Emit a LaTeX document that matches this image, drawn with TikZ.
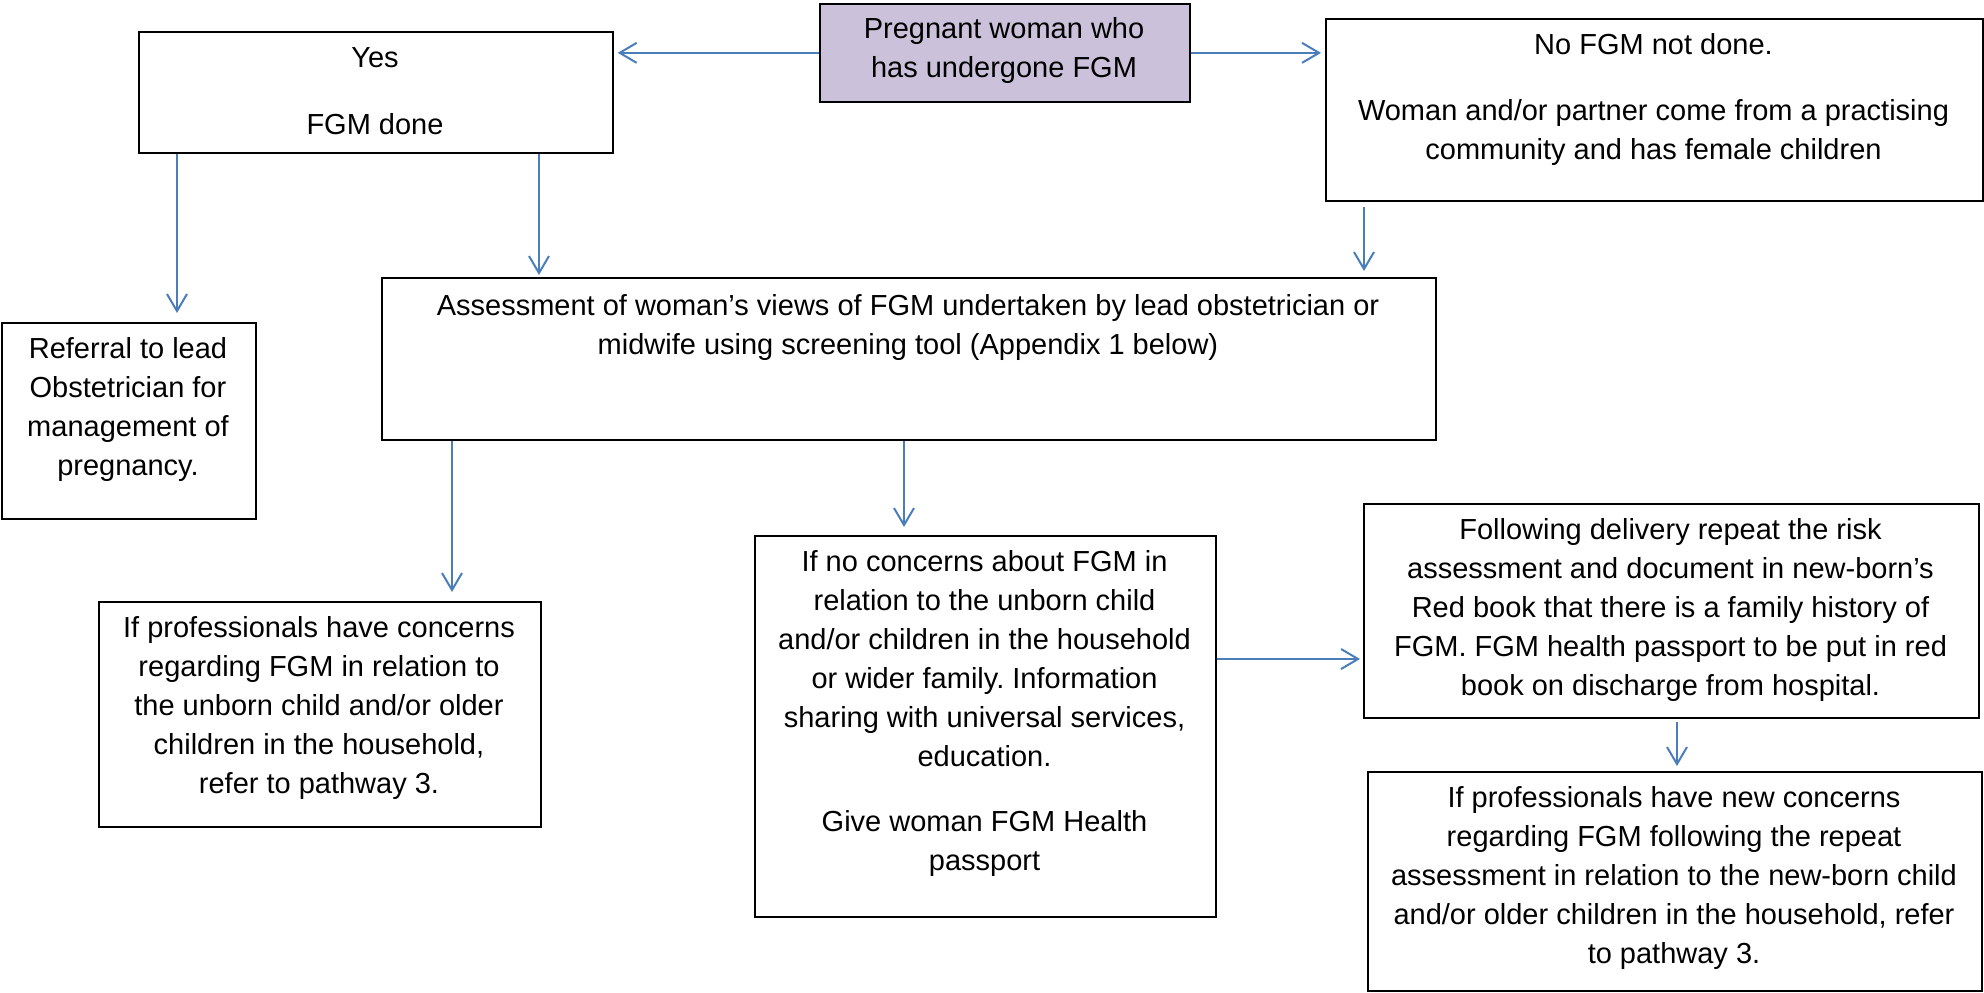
\documentclass[tikz,border=0pt]{standalone}
\usepackage{fontspec}
\setmainfont{Liberation Sans}
\usetikzlibrary{arrows.meta,calc}
\definecolor{startfill}{HTML}{CCC1DA}
\definecolor{flowblue}{HTML}{4A7EBB}
\frenchspacing
\begin{document}
\begin{tikzpicture}[x=1pt,y=-1pt,
  box/.style={draw=black,line width=1.7pt,rectangle,inner sep=0pt,anchor=north west},
  txt/.style={align=center,inner sep=0pt,font=\fontsize{29}{39}\selectfont},
  arr/.style={draw=flowblue,line width=2pt,-{Straight Barb[length=17pt,width=20pt,line width=2pt]}},
]
\useasboundingbox (0,0) rectangle (1984,993);

% boxes
\node[box,fill=startfill,minimum width=370pt,minimum height=98pt] (preg) at (819,3) {};
\node[box,minimum width=474pt,minimum height=121pt] (yes) at (138,31) {};
\node[box,minimum width=657pt,minimum height=182pt] (no) at (1325,18) {};
\node[box,minimum width=254pt,minimum height=196pt] (referral) at (1,322) {};
\node[box,minimum width=1054pt,minimum height=162pt] (assess) at (381,277) {};
\node[box,minimum width=442pt,minimum height=225pt] (concerns) at (98,601) {};
\node[box,minimum width=461pt,minimum height=381pt] (noconc) at (754,535) {};
\node[box,minimum width=615pt,minimum height=214pt] (follow) at (1363,503) {};
\node[box,minimum width=614pt,minimum height=219pt] (newc) at (1367,771) {};

% texts
\node[txt] (pregT) at (1004,51) {Pregnant woman who\\has undergone FGM};
\node[txt] (yesT) at (375,91.5) {Yes\\[28pt]FGM done};
\node[txt] (noT) at (1653.5,99.5) {No FGM not done.\\[27pt]Woman and/or partner come from a practising\\community and has female children};
\node[txt] (referralT) at (128,409) {Referral to lead\\Obstetrician for\\management of\\pregnancy.};
\node[txt] (assessT) at (908,327) {Assessment of woman’s views of FGM undertaken by lead obstetrician or\\midwife using screening tool (Appendix 1 below)};
\node[txt] (concernsT) at (319,708) {If professionals have concerns\\regarding FGM in relation to\\the unborn child and/or older\\children in the household,\\refer to pathway 3.};
\node[txt] (noconcT) at (984.5,713) {If no concerns about FGM in\\relation to the unborn child\\and/or children in the household\\or wider family. Information\\sharing with universal services,\\education.\\[26pt]Give woman FGM Health\\passport};
\node[txt] (followT) at (1670.5,609.5) {Following delivery repeat the risk\\assessment and document in new-born’s\\Red book that there is a family history of\\FGM. FGM health passport to be put in red\\book on discharge from hospital.};
\node[txt] (newcT) at (1674,877.5) {If professionals have new concerns\\regarding FGM following the repeat\\assessment in relation to the new-born child\\and/or older children in the household, refer\\to pathway 3.};

% connector start points
\coordinate (yesA) at ([xshift=39pt]yes.south west);
\coordinate (yesB) at ([xshift=401pt]yes.south west);
\coordinate (noA) at ([xshift=39pt]no.south west);
\coordinate (assA) at ([xshift=71pt]assess.south west);
\coordinate (assB) at ([xshift=523pt]assess.south west);
\coordinate (ncA) at ([yshift=-124pt]noconc.north east);
\coordinate (folA) at ([xshift=314pt]follow.south west);

% connectors
\draw[arr,shorten >=4pt] (preg.west) -- (yes.east |- preg.west);
\draw[arr,shorten >=4pt] (preg.east) -- (no.west |- preg.east);
\draw[arr,shorten >=9pt] (yesA) -- (yesA |- referral.north);
\draw[arr,shorten >=2pt] (yesB) -- (yesB |- assess.north);
\draw[arr,shorten <=5pt,shorten >=6pt] (noA) -- (noA |- assess.north);
\draw[arr,shorten >=9pt] (assA) -- (assA |- concerns.north);
\draw[arr,shorten >=8pt] (assB) -- (assB |- noconc.north);
\draw[arr,shorten >=3pt] (ncA) -- (follow.west |- ncA);
\draw[arr,shorten <=3pt,shorten >=5pt] (folA) -- (folA |- newc.north);
\end{tikzpicture}
\end{document}
